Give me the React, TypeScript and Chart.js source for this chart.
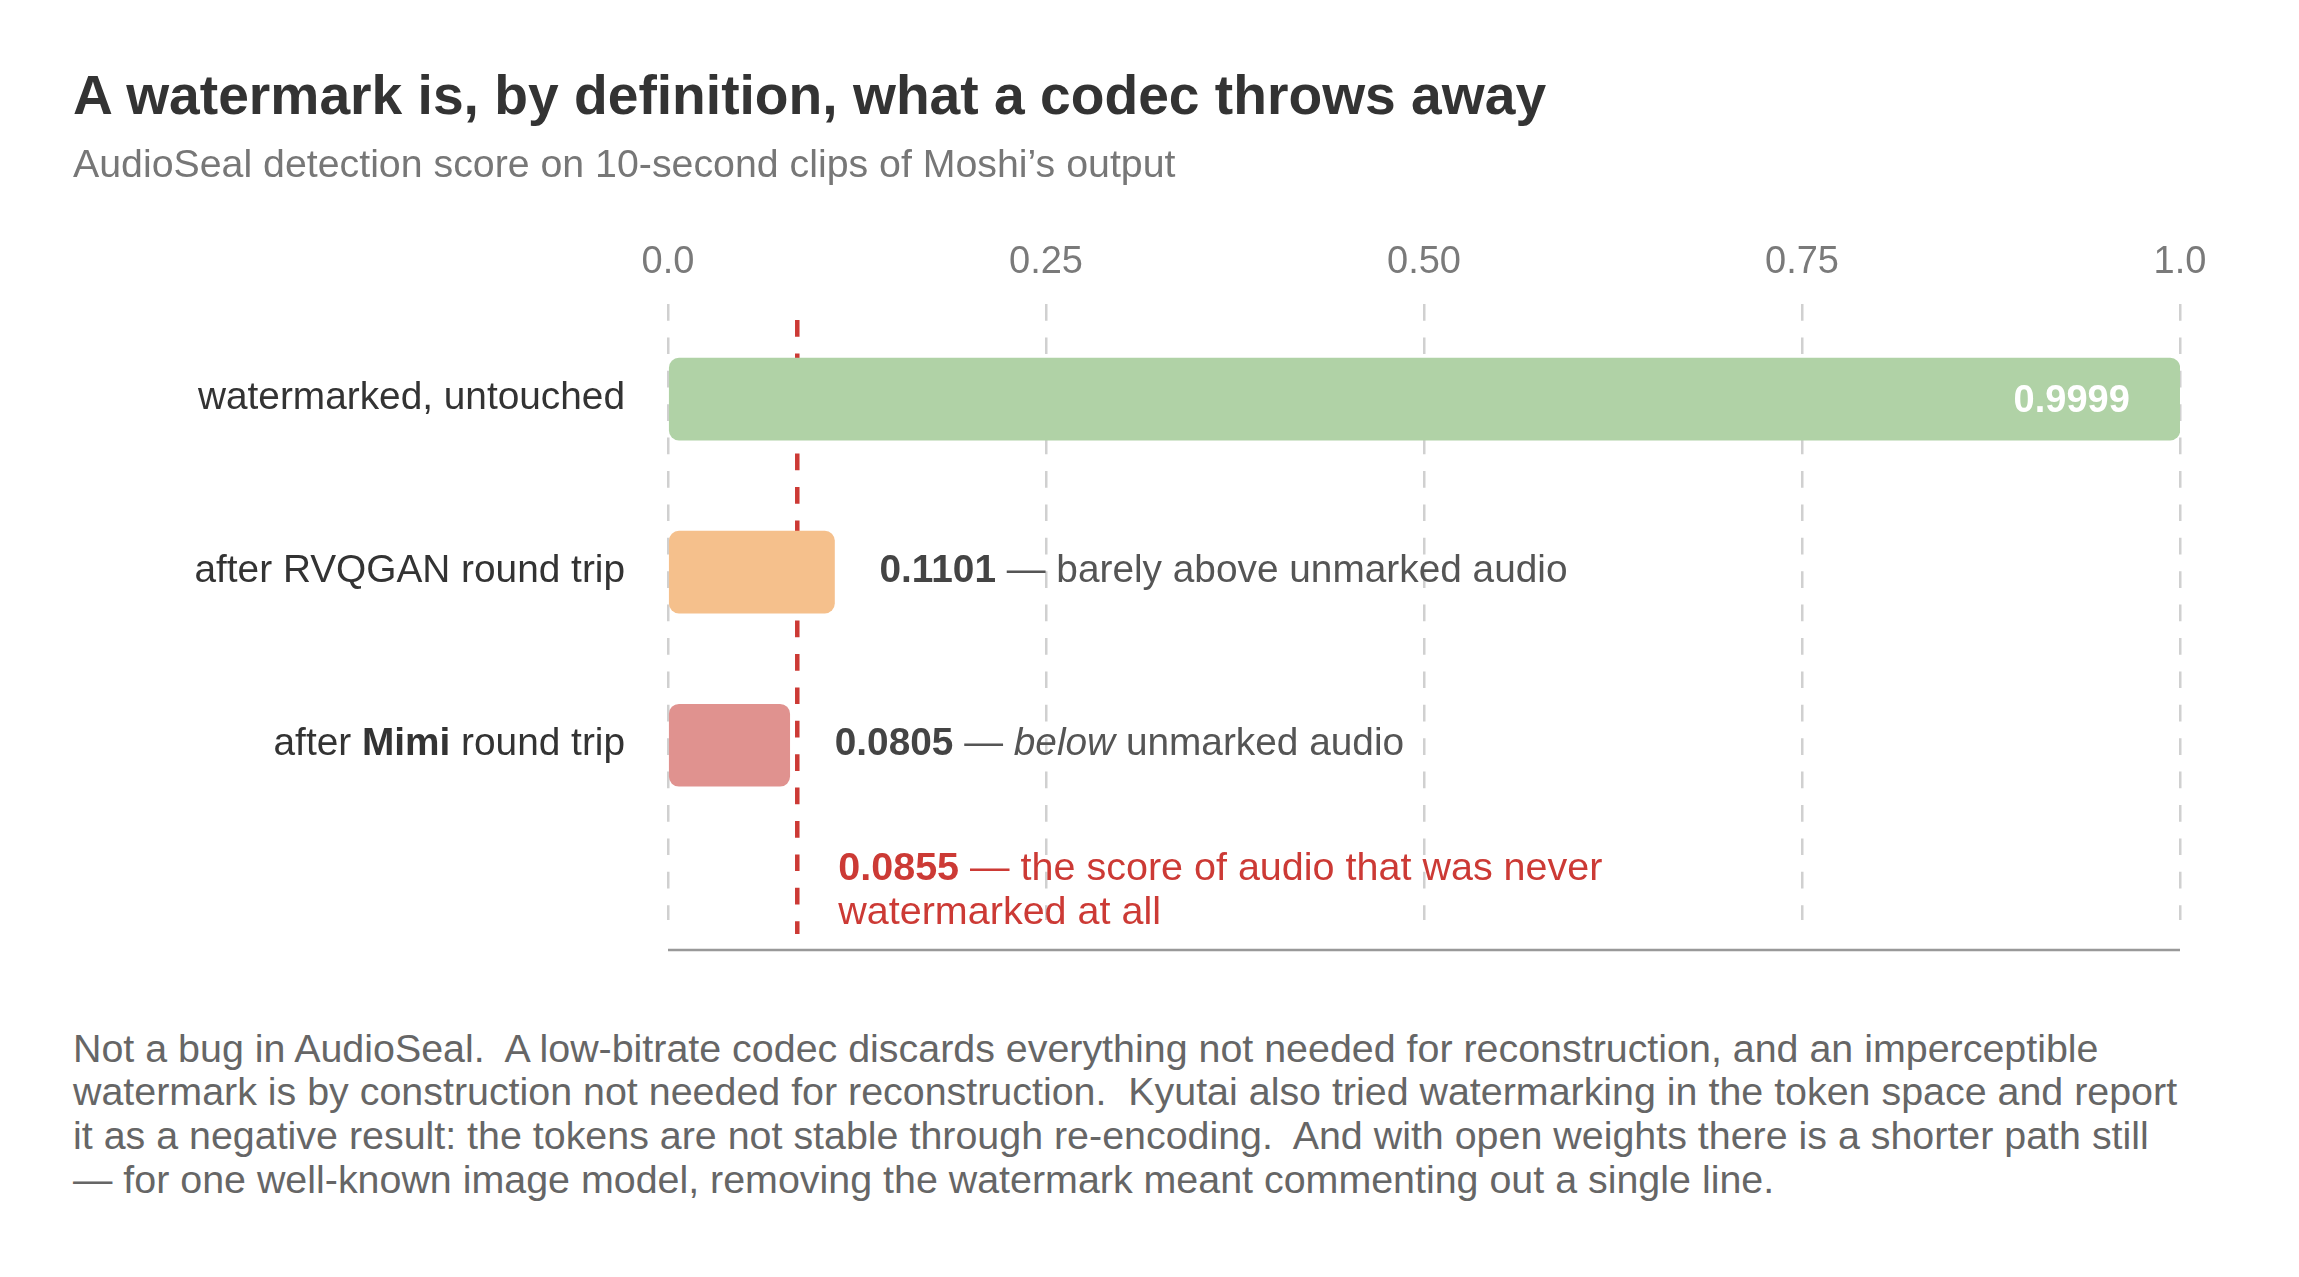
import React, { useEffect, useRef } from 'react';
import { Chart, registerables } from 'chart.js';

Chart.register(...registerables);

const FONT = '"Liberation Sans", Arial, Helvetica, sans-serif';

const titleText = 'A watermark is, by definition, what a codec throws away';
const subtitleText = 'AudioSeal detection score on 10-second clips of Moshi\u2019s output';

const categories = ['watermarked, untouched', 'after RVQGAN round trip', 'after Mimi round trip'];
const scores = [0.9999, 0.1101, 0.0805];
const notes = ['', 'barely above unmarked audio', 'below unmarked audio'];
const barColors = ['#b0d2a6', '#f5c08c', '#e0928f'];
const boldWord = 'Mimi';
const italicWord = 'below';

const unmarkedScore = 0.0855;
const unmarkedNote = ['the score of audio that was never', 'watermarked at all'];

const xTickValues = [0, 0.25, 0.5, 0.75, 1];
const xTickLabels = ['0.0', '0.25', '0.50', '0.75', '1.0'];

const footLines = [
  'Not a bug in AudioSeal.  A low-bitrate codec discards everything not needed for reconstruction, and an imperceptible',
  'watermark is by construction not needed for reconstruction.  Kyutai also tried watermarking in the token space and report',
  'it as a negative result: the tokens are not stable through re-encoding.  And with open weights there is a shorter path still',
  '\u2014 for one well-known image model, removing the watermark meant commenting out a single line.',
];

type Seg = { text: string; bold?: boolean; italic?: boolean; color: string };

function fontFor(s: Seg, size: number) {
  return `${s.italic ? 'italic ' : ''}${s.bold ? 'bold ' : ''}${size}px ${FONT}`;
}

function drawSegs(ctx: CanvasRenderingContext2D, segs: Seg[], x: number, y: number, size: number, align: 'left' | 'right') {
  ctx.save();
  ctx.textBaseline = 'alphabetic';
  ctx.textAlign = 'left';
  const widths = segs.map((s) => {
    ctx.font = fontFor(s, size);
    return ctx.measureText(s.text).width;
  });
  const total = widths.reduce((a, b) => a + b, 0);
  let cx = align === 'right' ? x - total : x;
  segs.forEach((s, i) => {
    ctx.font = fontFor(s, size);
    ctx.fillStyle = s.color;
    ctx.fillText(s.text, cx, y);
    cx += widths[i];
  });
  ctx.restore();
}

function splitWord(text: string, word: string, color: string, flag: 'bold' | 'italic'): Seg[] {
  const idx = text.indexOf(word);
  if (idx < 0) return [{ text, color }];
  const out: Seg[] = [];
  if (idx > 0) out.push({ text: text.slice(0, idx), color });
  out.push({ text: word, color, [flag]: true } as Seg);
  const rest = text.slice(idx + word.length);
  if (rest) out.push({ text: rest, color });
  return out;
}

const RED = '#cc3a35';
const LABEL_SIZE = 38.8;
const NOTE_SIZE = 39.5;

const overlayPlugin = {
  id: 'overlay',
  beforeDatasetsDraw(chart: any) {
    const { ctx, chartArea, scales } = chart;
    const x = scales.x.getPixelForValue(unmarkedScore);
    ctx.save();
    ctx.strokeStyle = RED;
    ctx.lineWidth = 4.5;
    ctx.setLineDash([16.7, 16.7]);
    ctx.beginPath();
    ctx.moveTo(x, chartArea.top + 16);
    ctx.lineTo(x, chartArea.bottom + 14);
    ctx.stroke();
    ctx.restore();
  },
  afterDatasetsDraw(chart: any) {
    const { ctx, chartArea, scales } = chart;
    const xs = scales.x;
    const ys = scales.y;
    // x tick labels
    ctx.save();
    ctx.font = `38px ${FONT}`;
    ctx.fillStyle = '#7a7a7a';
    ctx.textAlign = 'center';
    ctx.textBaseline = 'alphabetic';
    xTickValues.forEach((v, i) => {
      ctx.fillText(xTickLabels[i], xs.getPixelForValue(v), chartArea.top - 31);
    });
    ctx.restore();

    // axis line
    ctx.save();
    ctx.strokeStyle = '#999999';
    ctx.lineWidth = 2.5;
    ctx.beginPath();
    ctx.moveTo(chartArea.left, chartArea.bottom + 30);
    ctx.lineTo(chartArea.right, chartArea.bottom + 30);
    ctx.stroke();
    ctx.restore();

    categories.forEach((label, i) => {
      const cy = ys.getPixelForValue(i);
      drawSegs(ctx, splitWord(label, boldWord, '#333333', 'bold'), chartArea.left - 43, cy + 10, LABEL_SIZE, 'right');
      const end = xs.getPixelForValue(scores[i]);
      const valueText = scores[i].toFixed(4);
      if (!notes[i]) {
        ctx.save();
        ctx.font = `bold 38px ${FONT}`;
        ctx.fillStyle = '#ffffff';
        ctx.textAlign = 'right';
        ctx.textBaseline = 'alphabetic';
        ctx.fillText(valueText, end - 50, cy + 13);
        ctx.restore();
      } else {
        const segs: Seg[] = [
          { text: valueText, bold: true, color: '#444444' },
          { text: ' \u2014 ', color: '#555555' },
          ...splitWord(notes[i], italicWord, '#555555', 'italic'),
        ];
        drawSegs(ctx, segs, end + 45, cy + 10, LABEL_SIZE, 'left');
      }
    });

    // unmarked annotation
    const rx = xs.getPixelForValue(unmarkedScore) + 41;
    const baseY = ys.getPixelForValue(categories.length - 1) + 135;
    drawSegs(ctx, [
      { text: unmarkedScore.toFixed(4), bold: true, color: RED },
      { text: ' \u2014 ' + unmarkedNote[0], color: RED },
    ], rx, baseY, NOTE_SIZE, 'left');
    drawSegs(ctx, [{ text: unmarkedNote[1], color: RED }], rx, baseY + 44, NOTE_SIZE, 'left');
  },
};

export default function App() {
  const ref = useRef<HTMLCanvasElement>(null);
  useEffect(() => {
    const chart = new Chart(ref.current as HTMLCanvasElement, {
      type: 'bar',
      data: {
        labels: categories,
        datasets: [
          {
            data: scores.map((v, i) => ({ x: v, y: i })) as any,
            backgroundColor: barColors,
            borderRadius: 10,
            borderSkipped: false,
            barThickness: 82,
          },
        ],
      },
      options: {
        indexAxis: 'y',
        animation: false,
        responsive: false,
        devicePixelRatio: 1,
        events: [],
        layout: { padding: { left: 668, right: 119, top: 304, bottom: 80 } },
        plugins: { legend: { display: false }, tooltip: { enabled: false }, title: { display: false } },
        scales: {
          x: {
            type: 'linear',
            position: 'top',
            min: 0,
            max: 1,
            offset: false,
            ticks: { display: false, stepSize: 0.25 },
            grid: { color: '#d0d0d0', lineWidth: 2.5, drawTicks: false, offset: false },
            border: { display: false, dash: [16.7, 16.7] },
          },
          y: {
            type: 'linear',
            min: -0.55,
            max: 3.01,
            reverse: true,
            offset: false,
            grid: { offset: false },
            display: false,
          },
        },
      },
      plugins: [overlayPlugin],
    } as any);
    return () => chart.destroy();
  }, []);

  return (
    <div style={{ position: 'absolute', left: 0, top: 0, width: 2299, height: 1277, overflow: 'hidden', background: '#ffffff', fontFamily: FONT }}>
      <canvas ref={ref} width={2299} height={1000} style={{ position: 'absolute', left: 0, top: 0, width: 2299, height: 1000 }} />
      <div style={{ position: 'absolute', left: 73, top: 68, fontSize: 55.2, lineHeight: '55.2px', fontWeight: 700, color: '#333333', whiteSpace: 'nowrap' }}>
        {titleText}
      </div>
      <div style={{ position: 'absolute', left: 73, top: 144, fontSize: 39.3, lineHeight: '39.3px', color: '#777777', whiteSpace: 'nowrap' }}>
        {subtitleText}
      </div>
      <div style={{ position: 'absolute', left: 73, top: 1026.5, fontSize: 39.4, lineHeight: '43.7px', color: '#666666', whiteSpace: 'pre' }}>
        {footLines.join('\n')}
      </div>
    </div>
  );
}
